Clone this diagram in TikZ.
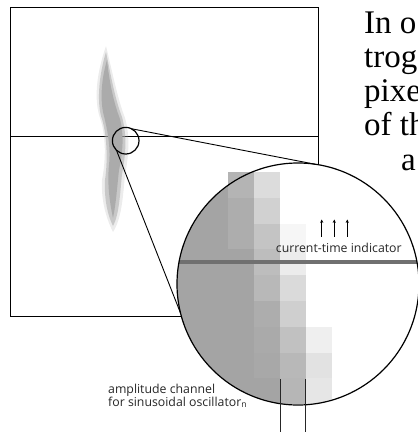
\documentclass[tikz,border=0pt]{standalone}
\usepackage{fontspec}
\setmainfont{Liberation Serif}
\newfontfamily\labelfont{Open Sans}
\usetikzlibrary{arrows.meta}
\tikzset{
  frame/.style={draw=black, line width=0.9pt},
  conn/.style={draw=black, line width=0.9pt},
  lens/.style={circle, draw=black, line width=1.2pt, inner sep=0pt, outer sep=0pt},
  lbl/.style={font=\labelfont\fontsize{12.3}{13}\selectfont, inner sep=0pt, text=black!85},
  para/.style={font=\fontsize{33}{34}\selectfont, inner sep=0pt, anchor=base west},
  tick/.style={draw=black, line width=0.6pt, -{Stealth[length=3.4pt,width=3.2pt]}},
  chan/.style={draw=black!85, line width=0.9pt},
}
\begin{document}
\begin{tikzpicture}[x=1pt,y=-1pt]
\useasboundingbox (0,0) rectangle (418,432);
\clip (0,0) rectangle (418,432);
% main frame
\draw[frame] (10,7.5) rectangle (318,316.5);
\draw[frame] (10,136) -- (318,136);
% blob (soft layers)
\fill[black!30, opacity=0.25] (106,46) .. controls (96,75) and (94,100) .. (100,118)
  .. controls (106,135) and (106,160) .. (102,180) .. controls (101,200) and (106,218) .. (113,232)
  .. controls (122,218) and (123,195) .. (125,175) .. controls (129,155) and (130,135) .. (125,118)
  .. controls (118,100) and (113,75) .. (106,46) -- cycle;
\fill[black!33, opacity=0.55] (106,52) .. controls (99,75) and (97,100) .. (101,116)
  .. controls (107,133) and (108,160) .. (105,180) .. controls (104,200) and (108,216) .. (113,226)
  .. controls (119,215) and (120,195) .. (122,174) .. controls (126,154) and (127,135) .. (122,117)
  .. controls (115,99) and (111,76) .. (106,52) -- cycle;
\fill[black!33] (107,60) .. controls (102,77) and (100,96) .. (103,112)
  .. controls (107,128) and (111,146) .. (109,165) .. controls (107,185) and (110,204) .. (113,218)
  .. controls (116,204) and (117,188) .. (119,170) .. controls (123,152) and (124,135) .. (120,119)
  .. controls (113,101) and (109,79) .. (107,60) -- cycle;
% lenses
\node[lens, minimum size=26.6pt] (sc) at (125.7,140.7) {};
\fill[white] (298,284) circle (121);
\begin{scope}
  \clip (298,284) circle (121);
  \fill[color={rgb,255:red,164;green,164;blue,164}] (170,150) rectangle (254.1,410);
  \foreach \i/\j/\g in {0/1/173,1/1/209,0/2/173,1/2/196,2/2/246,1/3/189,2/3/236,1/4/184,2/4/218,
      1/5/173,2/5/207,1/6/170,2/6/193,3/6/239,1/7/168,2/7/184,3/7/226,1/8/164,2/8/182,3/8/230}{
    \fill[color={rgb,255:red,\g;green,\g;blue,\g}] (228.3+25.8*\i,172+25.8*\j) rectangle ++(25.8,25.8);
  }
  \draw[line width=4.3pt, color={rgb,255:red,112;green,112;blue,112}] (170,262) -- (420,262);
\end{scope}
\foreach \i/\g in {0/180,1/220}{
  \fill[color={rgb,255:red,\g;green,\g;blue,\g}] (228.3+25.8*\i,172) rectangle ++(25.8,25.8);
}
\node[lens, minimum size=242pt] (bc) at (298,284) {};
% connectors between lenses
\draw[conn] (sc.64) -- (bc.82);
\draw[conn] (sc.226) -- (bc.194.7);
% current-time indicator
\coordinate (a1b) at (321.7,236.7); \coordinate (a1t) at (321.7,219.5);
\coordinate (a2b) at (334.3,236.7); \coordinate (a2t) at (334.3,219.5);
\coordinate (a3b) at (347.3,236.7); \coordinate (a3t) at (347.3,219.5);
\draw[tick] (a1b) -- (a1t);
\draw[tick] (a2b) -- (a2t);
\draw[tick] (a3b) -- (a3t);
\node[lbl, anchor=base west] (cti) at (275.7,252) {current-time indicator};
% amplitude channel
\coordinate (c1t) at (280,379); \coordinate (c1b) at (280,432);
\coordinate (c2t) at (305.7,379); \coordinate (c2b) at (305.7,432);
\draw[chan] (c1t) -- (c1b);
\draw[chan] (c2t) -- (c2b);
\node[lbl, anchor=base west, align=left] (amp) at (108,406) {amplitude channel\\for sinusoidal oscillator\textsubscript{n}};
% paragraph text
\node[para] (p1) at (364,33) {In o};
\node[para] (p2) at (364,67) {trog};
\node[para] (p3) at (364,101) {pixe};
\node[para] (p4) at (364,135) {of th};
\node[para] (p5) at (401,170) {a};
\end{tikzpicture}
\end{document}
